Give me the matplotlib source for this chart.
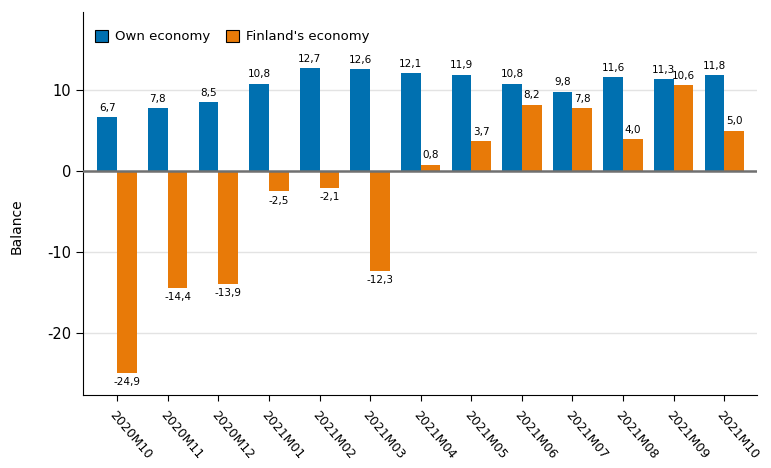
import numpy as np
import matplotlib.pyplot as plt

months = ['2020M10', '2020M11', '2020M12', '2021M01', '2021M02', '2021M03', '2021M04',
          '2021M05', '2021M06', '2021M07', '2021M08', '2021M09', '2021M10']
own = [6.7, 7.8, 8.5, 10.8, 12.7, 12.6, 12.1, 11.9, 10.8, 9.8, 11.6, 11.3, 11.8]
finland = [-24.9, -14.4, -13.9, -2.5, -2.1, -12.3, 0.8, 3.7, 8.2, 7.8, 4.0, 10.6, 5.0]

blue = '#0070b0'
orange = '#e87a08'

fig = plt.figure(figsize=(7.71, 4.68), dpi=100)
ax = fig.add_axes([0.108, 0.156, 0.874, 0.818])

x = np.arange(len(months))
w = 0.39
b1 = ax.bar(x - w / 2, own, w, color=blue, label='Own economy', zorder=3)
b2 = ax.bar(x + w / 2, finland, w, color=orange, label="Finland's economy", zorder=3)

def fmt(v):
    return f'{v:.1f}'.replace('.', ',')

for bars, vals in [(b1, own), (b2, finland)]:
    for r, v in zip(bars, vals):
        cx = r.get_x() + r.get_width() / 2
        if v >= 0:
            ax.annotate(fmt(v), (cx, v), xytext=(0, 3), textcoords='offset points',
                        ha='center', va='bottom', fontsize=7.5, zorder=4)
        else:
            ax.annotate(fmt(v), (cx, v), xytext=(0, -3), textcoords='offset points',
                        ha='center', va='top', fontsize=7.5, zorder=4)

ax.set_xlim(-0.67, 12.65)
ax.set_ylim(-27.6, 19.6)
ax.set_yticks([-20, -10, 0, 10])
ax.set_yticklabels(['-20', '-10', '0', '10'], fontsize=10.5)
for yv in [-20, -10, 10]:
    ax.axhline(yv, color='#e3e3e3', lw=1, zorder=1)
ax.axhline(0, color='#707070', lw=1.8, zorder=4)

ax.set_xticks(x)
ax.set_xticklabels(months, rotation=-50, ha='left', rotation_mode='anchor', fontsize=9)
ax.tick_params(axis='x', length=4, pad=6)
ax.tick_params(axis='y', length=5)
ax.set_ylabel('Balance', fontsize=10)
ax.yaxis.set_label_coords(-0.088, 0.44)

ax.spines['top'].set_visible(False)
ax.spines['right'].set_visible(False)

leg = ax.legend(loc='upper left', ncol=2, frameon=False, fontsize=9.5,
                handlelength=1.0, handleheight=1.0, columnspacing=1.2,
                handletextpad=0.5, bbox_to_anchor=(0.0, 0.985))
for h in leg.legend_handles:
    h.set_edgecolor('black')
    h.set_linewidth(0.8)

fig.savefig('out.png', dpi=100)
